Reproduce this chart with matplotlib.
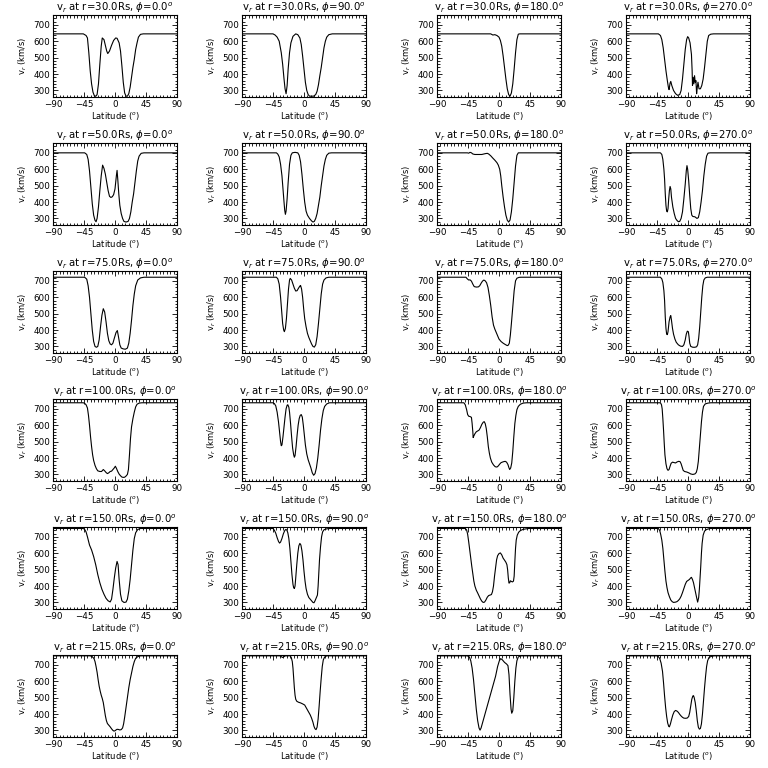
import matplotlib

matplotlib.use("Agg")
import matplotlib.pyplot as plt
from matplotlib.ticker import MultipleLocator

# radial distances (rows) and longitudes (columns)
radii = [30, 50, 75, 100, 150, 215]
phis = [0, 90, 180, 270]

# v_r (km/s) against latitude (deg)
r30_p0 = [(-90, 645), (-46, 645), (-42, 635), (-40, 620), (-38, 530), (-36, 420), (-34, 340), (-32, 290),
          (-30, 268), (-28, 264), (-26, 275), (-24, 340), (-22, 460), (-20, 570), (-18.5, 620), (-16, 610),
          (-14, 575), (-12, 540), (-10.5, 525), (-8, 540), (-5, 575), (-2, 605), (1, 620), (3, 618),
          (6, 590), (8, 540), (10, 450), (12, 350), (14, 285), (16, 265), (18, 265), (20, 280), (22, 320),
          (24, 380), (26, 440), (28, 490), (30, 550), (32, 590), (34, 625), (37, 642), (41, 645), (90, 645)]
r30_p90 = [(-90, 645), (-45, 645), (-42, 638), (-39, 625), (-36, 600), (-33, 530), (-31, 460), (-29, 370),
           (-27.5, 310), (-26, 280), (-24.5, 330), (-23, 430), (-21, 530), (-19, 590), (-16, 630), (-12, 645),
           (-9, 640), (-6, 620), (-4, 580), (-2, 510), (0, 430), (2, 350), (4, 300), (6, 275), (8, 265),
           (14, 265), (17, 275), (19, 295), (21, 335), (23, 390), (25, 440), (27, 500), (29, 560), (31, 600),
           (33, 625), (36, 640), (41, 645), (90, 645)]
r30_p180 = [(-90, 645), (-12, 645), (-9, 638), (-6, 640), (-3, 635), (0, 625), (2, 605), (4, 570), (6, 510),
            (8, 440), (10, 370), (12, 310), (14, 275), (16, 265), (18, 285), (20, 340), (22, 430), (24, 530),
            (26, 610), (28, 643), (30, 645), (90, 645)]
r30_p270 = [(-90, 645), (-43, 645), (-40, 635), (-38, 610), (-36, 560), (-34, 490), (-32, 420), (-30, 360),
            (-28.5, 320), (-27.5, 305), (-26, 345), (-25, 355), (-23.5, 330), (-21, 300), (-18, 280), (-15, 270),
            (-12, 275), (-10, 300), (-8, 370), (-6, 460), (-4, 550), (-2, 610), (-0.5, 628), (1, 620), (3, 590),
            (5, 520), (6, 420), (6.5, 330), (7.5, 380), (8.5, 340), (9.5, 390), (10.5, 350), (11.5, 360),
            (12.5, 280), (13.5, 320), (14.5, 350), (16, 310), (18, 310), (20, 330), (22, 370), (24, 440),
            (26, 520), (28, 600), (30, 635), (33, 643), (37, 645), (90, 645)]

r50_p0 = [(-90, 700), (-44, 700), (-41, 690), (-39, 660), (-37, 590), (-35, 490), (-33, 390), (-31, 320),
          (-29, 288), (-27.5, 280), (-26, 300), (-24, 370), (-22, 470), (-20, 560), (-18, 625), (-16, 605),
          (-14, 570), (-12, 520), (-10, 470), (-8, 435), (-6, 428), (-4, 432), (-2, 445), (0, 480), (2, 560),
          (3, 593), (4, 540), (5.5, 450), (7, 380), (9, 330), (11, 300), (13, 282), (16, 278), (19, 282),
          (21, 300), (23, 340), (25, 400), (27, 450), (29, 520), (31, 590), (33, 650), (35, 680), (38, 697),
          (42, 700), (90, 700)]
r50_p90 = [(-90, 700), (-40, 700), (-38, 692), (-36, 675), (-34, 630), (-32, 560), (-30.5, 480), (-29, 400),
           (-28, 350), (-27, 325), (-26, 345), (-24.5, 420), (-23, 520), (-21, 630), (-19, 685), (-17, 700),
           (-13, 703), (-9, 700), (-7, 685), (-5, 645), (-3, 570), (-1, 480), (1, 400), (3, 345), (5, 320),
           (8, 300), (11, 285), (13, 278), (15, 282), (17, 300), (19, 330), (21, 380), (23, 430), (25, 500),
           (27, 560), (29, 620), (31, 660), (33, 685), (36, 698), (40, 700), (90, 700)]
r50_p180 = [(-90, 700), (-46, 700), (-44, 698), (-42, 703), (-40, 700), (-38, 693), (-35, 690), (-30, 690),
            (-25, 690), (-20, 695), (-17, 697), (-15, 693), (-12, 682), (-9, 668), (-6, 655), (-3, 640),
            (-1, 625), (1, 600), (2.5, 560), (4, 500), (6, 430), (8, 370), (10, 320), (12, 290), (14, 278),
            (16, 290), (18, 340), (20, 420), (22, 520), (24, 620), (26, 685), (28, 700), (90, 700)]
r50_p270 = [(-90, 700), (-40, 700), (-38, 690), (-36.5, 660), (-35, 600), (-34, 540), (-33, 450), (-32, 380),
            (-31, 345), (-30, 340), (-29, 360), (-28, 420), (-27, 470), (-26, 495), (-25, 480), (-24, 430),
            (-22, 370), (-20, 330), (-18, 300), (-16, 288), (-14, 280), (-12, 282), (-10, 300), (-8, 340),
            (-6, 420), (-4, 510), (-2.5, 590), (-1.5, 622), (-0.5, 600), (1, 530), (2.5, 440), (4, 360),
            (5.5, 320), (7, 312), (10, 310), (13, 300), (15, 305), (17, 340), (19, 400), (21, 470), (23, 560),
            (25, 630), (27, 680), (29, 698), (32, 700), (90, 700)]

r75_p0 = [(-90, 722), (-44, 722), (-41, 710), (-39, 670), (-37, 600), (-35, 500), (-33, 400), (-31, 330),
          (-29, 300), (-27, 295), (-25, 300), (-23, 340), (-21, 420), (-19, 490), (-17, 530), (-15, 510),
          (-13, 450), (-11, 380), (-9, 335), (-7, 315), (-5, 310), (-3, 320), (-1, 350), (1.5, 385), (3.4, 397),
          (5, 360), (7, 310), (9, 290), (12, 285), (15, 283), (18, 290), (20, 320), (22, 380), (24, 460),
          (26, 550), (28, 620), (30, 670), (33, 705), (37, 718), (42, 722), (90, 722)]
r75_p90 = [(-90, 722), (-40, 722), (-38, 712), (-36, 680), (-34, 600), (-32.5, 520), (-31, 440), (-29.5, 400),
           (-28.5, 390), (-27, 410), (-25.5, 470), (-24, 560), (-22.5, 650), (-21, 705), (-20, 715), (-18, 705),
           (-16, 680), (-14, 655), (-12, 638), (-10, 640), (-8, 655), (-6, 668), (-5, 672), (-3.5, 650),
           (-2, 600), (-0.5, 530), (1, 470), (3, 420), (5, 380), (7, 355), (9, 335), (11, 315), (13, 300),
           (15, 296), (17, 310), (19, 360), (21, 440), (23, 530), (25, 620), (27, 680), (29, 705), (32, 718),
           (36, 722), (90, 722)]
r75_p180 = [(-90, 722), (-48, 722), (-46, 712), (-44, 705), (-42, 706), (-40, 698), (-38, 680), (-36, 665),
            (-33, 662), (-30, 663), (-28, 670), (-26, 685), (-24, 698), (-22, 705), (-20, 700), (-18, 688),
            (-16, 660), (-14, 610), (-12, 550), (-10, 480), (-8, 430), (-6, 405), (-4, 385), (-2, 365), (0, 345),
            (3, 330), (6, 320), (9, 312), (12, 305), (13.5, 308), (15, 320), (16.5, 370), (18, 440), (20, 540),
            (22, 640), (24, 700), (26, 716), (29, 721), (32, 722), (90, 722)]
r75_p270 = [(-90, 722), (-40, 722), (-38, 712), (-36.5, 690), (-35, 640), (-34, 580), (-33, 480), (-32, 410),
            (-31, 375), (-30, 372), (-29, 390), (-27.5, 450), (-26, 480), (-25, 488), (-24, 460), (-22.5, 410),
            (-21, 375), (-19, 345), (-17, 325), (-14, 310), (-11, 302), (-8, 300), (-6, 310), (-4, 340),
            (-2.5, 375), (-1, 393), (0.5, 390), (1.5, 360), (2.5, 320), (4, 300), (7, 295), (10, 295),
            (12.5, 298), (14, 310), (15.5, 350), (17, 420), (18.5, 510), (20, 600), (21.5, 670), (23, 705),
            (25, 718), (28, 722), (90, 722)]

r100_p0 = [(-90, 737), (-46, 737), (-44, 733), (-42, 725), (-40, 705), (-38.5, 660), (-37, 600), (-35.5, 530),
           (-34, 470), (-32.5, 420), (-31, 385), (-29, 355), (-27, 335), (-25, 322), (-22, 318), (-19.5, 318),
           (-17, 330), (-15, 322), (-13, 312), (-11, 305), (-9, 310), (-7, 318), (-5, 320), (-3, 330), (-1, 340),
           (0.5, 350), (2, 338), (4, 318), (6, 302), (8, 292), (10, 284), (12, 282), (14, 283), (16, 290),
           (18, 300), (19.5, 330), (21, 420), (22.5, 520), (24, 590), (26, 640), (28, 680), (30, 712),
           (32, 728), (35, 735), (39, 737), (90, 737)]
r100_p90 = [(-90, 737), (-45, 737), (-43, 732), (-41, 718), (-39, 680), (-37, 620), (-35.5, 560), (-34, 500),
            (-33, 475), (-32, 480), (-30.5, 530), (-29, 590), (-27.5, 650), (-26, 700), (-24.5, 722),
            (-23.5, 725), (-22, 710), (-21, 680), (-19.5, 610), (-18, 530), (-16.5, 460), (-15, 420), (-14, 405),
            (-13, 415), (-11.5, 470), (-10, 540), (-8.5, 600), (-7, 640), (-5.5, 660), (-4, 665), (-2.5, 650),
            (-1, 600), (0.5, 540), (2, 480), (4, 425), (6, 390), (8, 365), (10, 340), (12, 310), (14, 295),
            (16, 305), (18, 340), (20, 400), (22, 480), (24, 570), (26, 640), (28, 690), (30, 715), (33, 730),
            (37, 737), (90, 737)]
r100_p180 = [(-90, 737), (-51, 737), (-49, 725), (-47, 695), (-45.5, 665), (-44, 655), (-42, 653), (-40, 648),
             (-39, 610), (-38, 560), (-37.5, 525), (-36.5, 535), (-35, 548), (-33, 560), (-31, 565), (-29, 570),
             (-27, 585), (-25, 605), (-23, 618), (-21.5, 622), (-20, 610), (-18.5, 580), (-17, 530), (-15.5, 470),
             (-14, 430), (-12.5, 400), (-10.5, 375), (-8, 358), (-5.5, 347), (-3, 345), (-1, 352), (1, 363),
             (3, 372), (6, 377), (9, 380), (11, 375), (13, 360), (14.5, 340), (15.5, 330), (17, 340), (18.5, 370),
             (20, 440), (21.5, 530), (23, 610), (24.5, 660), (26, 695), (28, 715), (31, 728), (35, 735),
             (40, 737), (90, 737)]
r100_p270 = [(-90, 737), (-40, 737), (-38.5, 725), (-37.5, 700), (-36.5, 640), (-35.5, 570), (-34.5, 490),
             (-33.5, 420), (-32, 365), (-30.5, 335), (-29, 325), (-27.5, 330), (-26, 350), (-24.5, 368),
             (-22.5, 375), (-20, 372), (-18, 370), (-16, 376), (-13.5, 380), (-11.5, 378), (-10, 365),
             (-8.5, 345), (-7, 325), (-5, 318), (-2, 315), (1, 310), (4, 303), (7, 300), (10, 303), (12, 312),
             (13.5, 335), (15, 380), (16.5, 460), (18, 540), (19.5, 620), (21, 680), (22.5, 715), (25, 730),
             (29, 735), (33, 737), (90, 737)]

r150_p0 = [(-90, 751), (-46, 751), (-44, 745), (-42, 730), (-40, 700), (-37, 650), (-34, 620), (-31, 580),
           (-28, 530), (-25, 470), (-22, 420), (-19, 380), (-16, 350), (-13, 325), (-10, 310), (-7, 303),
           (-5, 320), (-3, 380), (-1, 450), (1, 510), (3, 550), (4.5, 530), (6, 440), (8, 350), (10, 310),
           (13, 300), (16, 302), (18, 320), (20, 370), (22, 440), (24, 530), (26, 620), (28, 690), (30, 725),
           (33, 745), (37, 751), (90, 751)]
r150_p90 = [(-90, 751), (-45, 751), (-43, 740), (-41, 722), (-39, 695), (-37, 672), (-35.5, 662), (-34, 668),
            (-32, 690), (-30, 718), (-28, 738), (-26.5, 745), (-25, 742), (-23.5, 725), (-22, 690), (-20.5, 630),
            (-19, 550), (-17.5, 470), (-16, 410), (-15, 390), (-14, 385), (-13, 400), (-12, 450), (-10.5, 530),
            (-9, 600), (-7.5, 645), (-6, 660), (-4.5, 650), (-3, 615), (-1.5, 560), (0, 490), (1.5, 430),
            (3, 385), (5, 350), (7, 330), (9, 320), (11, 310), (13, 300), (14.5, 298), (16, 310), (18, 330),
            (19.5, 345), (20.5, 400), (21.5, 480), (22.5, 560), (24, 640), (25.5, 700), (27, 730), (29, 743),
            (33, 749), (38, 751), (90, 751)]
r150_p180 = [(-90, 751), (-49, 751), (-47, 742), (-45.5, 715), (-44, 670), (-42.5, 620), (-41, 570),
             (-39.5, 520), (-38, 475), (-36.5, 430), (-35, 400), (-33, 375), (-31, 358), (-29, 340), (-27, 322),
             (-25, 308), (-23, 300), (-21, 302), (-19, 315), (-17, 332), (-15, 342), (-13, 345), (-11, 348),
             (-9.5, 365), (-8, 400), (-6.5, 460), (-5, 510), (-3.5, 560), (-2, 585), (0, 598), (2, 602), (4, 590),
             (6, 570), (8, 558), (10, 545), (11.5, 530), (12.5, 500), (13.5, 450), (14.5, 418), (15.5, 420),
             (16.5, 432), (18, 428), (19.5, 425), (21, 430), (22, 460), (23, 550), (24, 630), (25, 680),
             (26.5, 710), (28.5, 728), (31, 738), (34, 744), (38, 748), (43, 751), (90, 751)]
r150_p270 = [(-90, 751), (-43, 751), (-41, 738), (-39.5, 712), (-38, 680), (-36.5, 630), (-35, 560),
             (-33.5, 490), (-32, 430), (-30.5, 390), (-29, 360), (-27, 335), (-25, 315), (-23, 305), (-21, 300),
             (-18, 302), (-16, 305), (-14, 312), (-12, 322), (-10, 338), (-8, 360), (-6, 385), (-4, 410),
             (-2, 428), (0, 434), (2, 440), (4, 450), (5, 453), (6.5, 440), (8, 420), (9.5, 390), (11, 360),
             (12.5, 330), (14, 302), (15.5, 330), (16.5, 380), (17.5, 450), (18.5, 520), (19.5, 600),
             (20.5, 660), (22, 710), (24, 735), (27, 745), (32, 751), (90, 751)]

r215_p0 = [(-90, 755), (-36, 755), (-33, 750), (-30.5, 738), (-29, 720), (-27.5, 690), (-26, 655), (-24.5, 610),
           (-23, 570), (-21.5, 540), (-20, 515), (-18.5, 495), (-17, 470), (-15.5, 430), (-14, 390),
           (-12.5, 360), (-11, 342), (-9, 332), (-7, 322), (-5, 310), (-3, 300), (-1.5, 296), (0, 298),
           (1.5, 303), (3, 307), (5, 306), (7, 303), (9, 305), (11, 315), (12.5, 340), (14, 380), (16, 440),
           (18, 500), (20, 560), (22, 610), (24, 650), (26, 690), (28, 720), (30, 740), (33, 750), (37, 755),
           (90, 755)]
r215_p90 = [(-90, 755), (-35, 755), (-33, 750), (-31, 745), (-29, 750), (-27, 755), (-20, 755), (-18.5, 745),
            (-17, 720), (-16, 680), (-15, 620), (-14, 560), (-13, 515), (-12, 490), (-10.5, 478), (-8, 472),
            (-5, 468), (-2, 462), (1, 455), (3, 440), (5, 425), (7, 410), (9, 395), (11, 375), (13, 350),
            (14.5, 325), (16, 310), (17.5, 305), (19, 320), (20.5, 370), (22, 450), (23.5, 540), (25, 620),
            (26.5, 690), (28, 730), (30, 748), (33, 755), (90, 755)]
r215_p180 = [(-90, 755), (-46, 755), (-43, 748), (-41, 725), (-39, 680), (-37, 610), (-35, 520), (-33, 430),
             (-31, 360), (-29, 315), (-27.5, 302), (-26, 315), (-24, 345), (-21, 390), (-17, 450), (-13, 510),
             (-9, 570), (-5, 630), (-2, 690), (0.5, 725), (2.5, 738), (5, 730), (8, 715), (11, 705), (13, 695),
             (14.5, 640), (16, 520), (17.5, 430), (18.5, 405), (20, 420), (21.5, 500), (23, 600), (24.5, 680),
             (26, 725), (28, 748), (31, 755), (90, 755)]
r215_p270 = [(-90, 755), (-45, 755), (-43, 750), (-41, 738), (-39, 710), (-37, 660), (-35.5, 590), (-34, 510),
             (-32.5, 440), (-31, 385), (-29.5, 345), (-28, 325), (-27, 322), (-25.5, 340), (-24, 365), (-22, 395),
             (-20, 415), (-18, 422), (-16, 418), (-14, 410), (-12, 398), (-10, 388), (-8, 380), (-6, 375),
             (-3, 374), (-1, 376), (1, 385), (2.5, 410), (4, 450), (5.5, 490), (7, 510), (8, 512), (9, 500),
             (10.5, 470), (12, 420), (13.5, 360), (15, 320), (16.5, 308), (18, 312), (19.5, 340), (21, 400),
             (22.5, 480), (24, 560), (25.5, 630), (27, 690), (28.5, 725), (30.5, 745), (34, 752), (38, 755),
             (90, 755)]

curves = {
    (30, 0): r30_p0, (30, 90): r30_p90, (30, 180): r30_p180, (30, 270): r30_p270,
    (50, 0): r50_p0, (50, 90): r50_p90, (50, 180): r50_p180, (50, 270): r50_p270,
    (75, 0): r75_p0, (75, 90): r75_p90, (75, 180): r75_p180, (75, 270): r75_p270,
    (100, 0): r100_p0, (100, 90): r100_p90, (100, 180): r100_p180, (100, 270): r100_p270,
    (150, 0): r150_p0, (150, 90): r150_p90, (150, 180): r150_p180, (150, 270): r150_p270,
    (215, 0): r215_p0, (215, 90): r215_p90, (215, 180): r215_p180, (215, 270): r215_p270,
}

W = 768.0
col_left = [53, 242, 437, 626]  # px
row_top = 15                     # px, first row
row_step = 128
ax_w, ax_h = 124, 82

fig = plt.figure(figsize=(7.68, 7.68), dpi=100, facecolor="white")

for i, r in enumerate(radii):
    for j, p in enumerate(phis):
        top = row_top + row_step * i
        ax = fig.add_axes([col_left[j] / W, 1 - (top + ax_h) / W, ax_w / W, ax_h / W])
        lat, v = zip(*curves[(r, p)])
        ax.plot(lat, v, color="black", lw=0.8)
        ax.set_xlim(-90, 90)
        ax.set_ylim(260, 760)
        ax.set_xticks([-90, -45, 0, 45, 90])
        ax.set_yticks([300, 400, 500, 600, 700])
        ax.xaxis.set_minor_locator(MultipleLocator(5))
        ax.yaxis.set_minor_locator(MultipleLocator(20))
        ax.tick_params(which="both", direction="in", top=True, right=True,
                       labelsize=6.3, width=0.6, pad=2)
        ax.tick_params(which="major", length=3.5)
        ax.tick_params(which="minor", length=1.8)
        for s in ax.spines.values():
            s.set_linewidth(0.8)
        ax.set_title(f"v$_r$ at r={r:.1f}Rs, $\\phi$={p:.1f}$^o$", fontsize=7.3, pad=2.5)
        ax.set_xlabel("Latitude ($^o$)", fontsize=6, labelpad=1)
        ax.set_ylabel("v$_r$ (km/s)", fontsize=6, labelpad=3)

fig.savefig("out.png", dpi=100, facecolor="white")
